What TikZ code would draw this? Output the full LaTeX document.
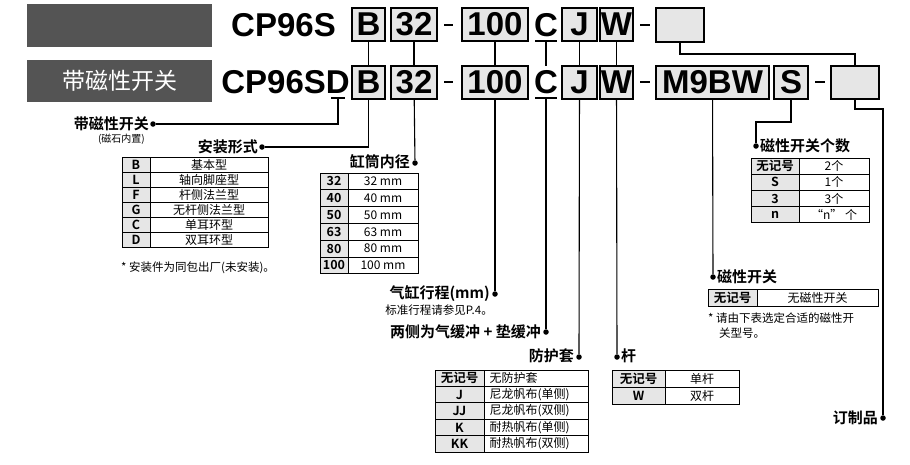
\documentclass[tikz,border=0pt]{standalone}
\usepackage{fontspec}
\setmainfont{Liberation Sans}
\newfontfamily\cjk[BoldFont={Noto Sans CJK SC Bold}]{Noto Sans CJK SC}
\definecolor{boxg}{HTML}{E6E6E6}
\definecolor{dark}{HTML}{545454}
\newcommand\mytab[7]{%
 \foreach \a/\b [count=\i] in {#6} {
  \pgfmathsetmacro\ya{#4+(\i-1)*#5}\pgfmathsetmacro\yb{#4+\i*#5}
  \draw[fill=boxg,line width=.8pt] (#1,\ya) rectangle (#2,\yb);
  \draw[line width=.8pt] (#2,\ya) rectangle (#3,\yb);
  \node[font=\fontsize{12.5}{13}\selectfont\bfseries\cjk] at ({(#1+#2)/2},{(\ya+\yb)/2}) {\a};
  \ifx#7l\node[anchor=west,font=\fontsize{12}{13}\selectfont\cjk] at ({#2+2},{(\ya+\yb)/2}) {\b};
  \else\node[font=\fontsize{12}{13}\selectfont\cjk] at ({(#2+#3)/2},{(\ya+\yb)/2}) {\b};\fi
 }}
\newcommand\cbox[6]{\node[cbx,minimum width={#3-#2},minimum height={#5-#4}] (#1) at ({(#2+#3)/2},{(#4+#5)/2}) {#6};}
\begin{document}
\begin{tikzpicture}[x=1pt,y=-1pt,
 cbx/.style={draw,fill=boxg,line width=1.1pt,inner sep=0pt,font=\fontsize{33}{33}\selectfont\bfseries},
 big/.style={inner sep=0pt,font=\fontsize{33}{33}\selectfont\bfseries},
 lab/.style={inner sep=1pt,font=\fontsize{15}{16}\selectfont\bfseries\cjk},
 small/.style={inner sep=1pt,font=\fontsize{11.5}{12}\selectfont\cjk},
 ln/.style={line width=1.1pt},
 dot/.style={circle,fill,inner sep=0pt,minimum size=5.5pt}]
\useasboundingbox (0,0) rectangle (910,464);
\fill[dark] (27,4) rectangle (212,47);
\fill[dark] (27,60) rectangle (212,102);
\node[text=white,font=\fontsize{23}{24}\selectfont\cjk] (hdr) at (119.5,81) {带磁性开关};
% row 1
\node[big,anchor=east] (cp1) at (336,25) {CP96S};
\cbox{b1}{352}{385}{8}{41}{B}
\cbox{n1}{391}{437}{8}{41}{32}
\draw[ln] (444,25) -- (453,25);
\cbox{s1}{462}{528}{8}{41}{100}
\node[big] (c1) at (546,25) {C};
\draw[ln] (535,41) -- (557,41);
\cbox{j1}{562}{597}{8}{41}{J}
\cbox{w1}{600}{633}{8}{41}{W}
\draw[ln] (640,25) -- (650,25);
\cbox{e1}{656}{704}{8}{42}{}
% row 2
\node[big,anchor=east] (cp2) at (350,82) {CP96SD};
\draw[ln] (331,98) -- (345,98);
\cbox{b2}{352}{385}{66}{99}{B}
\cbox{n2}{391}{437}{66}{99}{32}
\draw[ln] (444,82) -- (453,82);
\cbox{s2}{462}{528}{66}{99}{100}
\node[big] (c2) at (546,82) {C};
\draw[ln] (535,98) -- (557,98);
\cbox{j2}{562}{597}{66}{99}{J}
\cbox{w2}{600}{633}{66}{99}{W}
\draw[ln] (640,82) -- (650,82);
\cbox{m2}{656}{769}{66}{99}{M9BW}
\cbox{q2}{774}{808}{66}{99}{S}
\draw[ln] (815,82) -- (825,82);
\cbox{e2}{831}{879}{66}{99}{}
% between rows
\draw[ln] (b1) -- (b2); \draw[ln] (n1) -- (n2); \draw[ln] (s1) -- (s2);
\draw[ln] (546,41) -- (546,66); \draw[ln] (j1) -- (j2); \draw[ln] (w1) -- (w2);
\draw[ln] (680,42) -- (680,54) -- (855,54) -- (855,66);
% labels
\node[dot] (d1) at (153,124) {};
\node[lab,anchor=east] (l1) at (150,124) {带磁性开关};
\node[small,anchor=east,font=\fontsize{10}{11}\selectfont\cjk] (l1b) at (146,139) {(磁石内置)};
\draw[ln] (338,98) |- (d1);
\node[dot] (d2) at (262,147) {};
\node[lab,anchor=east] (l2) at (259,147) {安装形式};
\draw[ln] (b2) |- (d2);
\node[dot] (d3) at (415,163) {};
\node[lab,anchor=east] (l3) at (411,162) {缸筒内径};
\draw[ln] (n2) -- (d3);
\node[dot] (d4) at (495,294) {};
\node[lab,anchor=east] (l4) at (491,294) {气缸行程(mm)};
\node[small,anchor=east] (l4b) at (494,310) {标准行程请参见P.4。};
\draw[ln] (s2) -- (d4);
\node[dot] (d5) at (546,332) {};
\node[lab,anchor=east] (l5) at (542,332) {两侧为气缓冲 + 垫缓冲};
\draw[ln] (546,99) -- (d5);
\node[dot] (d6) at (579,357) {};
\node[lab,anchor=east] (l6) at (575,356) {防护套};
\draw[ln] (j2) -- (d6);
\node[dot] (d7) at (617,357) {};
\node[lab,anchor=west] (l7) at (620,356) {杆};
\draw[ln] (w2) -- (d7);
\node[dot] (d8) at (713,277) {};
\node[lab,anchor=west] (l8) at (716,277) {磁性开关};
\draw[ln] (m2) -- (d8);
\node[dot] (d9) at (756,146) {};
\node[lab,anchor=west] (l9) at (759,146) {磁性开关个数};
\draw[ln] (q2) |- (756,122) -- (d9);
\node[dot] (d10) at (883,418) {};
\node[lab,anchor=east] (l10) at (879,418) {订制品};
\draw[ln] (855,99) -- (855,109) -- (883,109) -- (d10);
% tables
\mytab{122}{150}{268}{157}{15}{B/基本型,L/轴向脚座型,F/杆侧法兰型,G/无杆侧法兰型,C/单耳环型,D/双耳环型}{c}
\node[small,anchor=west] (n1t) at (120,268) {* 安装件为同包出厂(未安装)。};
\mytab{320}{348}{418}{173}{16.8}{32/32 mm,40/40 mm,50/50 mm,63/63 mm,80/80 mm,100/100 mm}{c}
\mytab{751}{799}{869}{158}{16.2}{无记号/2个,S/1个,3/3个,n/“n” 个}{c}
\mytab{708}{757}{878}{289}{17}{无记号/无磁性开关}{c}
\node[small,anchor=west] (n2t) at (707,318) {* 请由下表选定合适的磁性开};
\node[small,anchor=west] (n3t) at (718,333) {关型号。};
\mytab{435}{484}{588}{370}{16.4}{无记号/无防护套,J/尼龙帆布(单侧),JJ/尼龙帆布(双侧),K/耐热帆布(单侧),KK/耐热帆布(双侧)}{l}
\mytab{612}{665}{739}{370}{17}{无记号/单杆,W/双杆}{c}
\end{tikzpicture}
\end{document}
